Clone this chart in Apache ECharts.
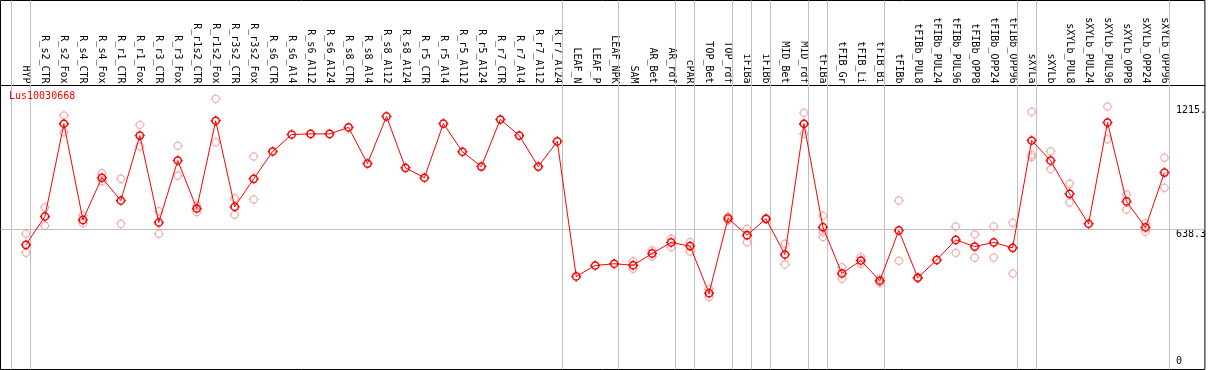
<!DOCTYPE html>
<html><head><meta charset="utf-8">
<script src="https://cdn.jsdelivr.net/npm/echarts@6/dist/echarts.min.js"></script>
<style>html,body{margin:0;padding:0;background:#fff}#c{width:1209px;height:370px}</style>
</head><body><div id="c"></div>
<script>
const geneName = 'Lus10030668';
const categories = ['HYP','R_s2_CTR','R_s2_Fox','R_s4_CTR','R_s4_Fox','R_r1_CTR','R_r1_Fox','R_r3_CTR','R_r3_Fox','R_r1s2_CTR','R_r1s2_Fox','R_r3s2_CTR','R_r3s2_Fox','R_s6_CTR','R_s6_Al4','R_s6_Al12','R_s6_Al24','R_s8_CTR','R_s8_Al4','R_s8_Al12','R_s8_Al24','R_r5_CTR','R_r5_Al4','R_r5_Al12','R_r5_Al24','R_r7_CTR','R_r7_Al4','R_r7_Al12','R_r7_Al24','LEAF_N','LEAF_P','LEAF_NPK','SAM','AR_Bet','AR_rdf','cPAR','TOP_Bet','TOP_rdf','iFIBa','iFIBb','MID_Bet','MID_rdf','tFIBa','tFIB_Gr','tFIB_Li','tFIB_Bi','tFIBb','tFIBb_PUL8','tFIBb_PUL24','tFIBb_PUL96','tFIBb_OPP8','tFIBb_OPP24','tFIBb_OPP96','sXYLa','sXYLb','sXYLb_PUL8','sXYLb_PUL24','sXYLb_PUL96','sXYLb_OPP8','sXYLb_OPP24','sXYLb_OPP96'];
const meanValues = [567,699,1130,683,879,773,1075,671,959,736,1144,744,874,1001,1080,1083,1083,1113,945,1164,925,879,1131,1000,931,1150,1075,931,1048,420,471,479,472,527,578,561,342,690,612,688,522,1130,649,434,494,400,634,414,497,590,559,578,553,1052,959,804,665,1136,769,648,903];
const rep1 = [618,741,1169,703,900,874,1125,723,1028,750,1246,784,978,null,null,null,null,null,null,null,null,null,null,null,null,null,null,null,null,null,null,null,491,541,595,579,361,699,642,690,572,1181,702,463,510,410,773,416,null,652,615,652,670,1186,1001,851,null,1210,801,668,972];
const rep2 = [530,656,1091,668,863,665,1024,618,888,719,1044,707,778,null,null,null,null,null,null,null,null,null,null,null,null,null,null,null,null,null,null,null,456,513,556,536,324,680,579,686,476,1083,603,409,479,389,493,411,null,530,507,508,434,986,919,764,null,1058,731,628,832];
const rep3 = [null,null,null,null,null,null,null,null,null,null,null,null,null,null,null,null,null,null,null,null,null,null,null,null,null,null,null,null,null,null,null,null,null,null,null,null,null,null,null,null,null,null,626,null,null,null,null,null,null,null,null,null,null,975,null,null,null,null,null,null,null];
const yTickValues = [638.3, 1215];
const yTickLabels = ['638.3', '1215.'];
const yZeroValues = [0];
const groupEndsAfter = [-1, 0, 28, 31, 34, 35, 37, 38, 39, 41, 42, 45, 52, 53, 60];

// layout constants (pixels)
const FRAME_L = 0.5, FRAME_T = 0.5, FRAME_W = 1206, FRAME_H = 369;
const FIRST_X = 26, STEP = 19, SEP_OFFSET = 4.5;
const ZERO_Y = 366.75, PX_PER_UNIT = 0.21502;
const LABEL_BAND = 85;
const Y_AXIS_X = 1175.5;
const xMin = -(FIRST_X - FRAME_L) / STEP;
const xMax = xMin + FRAME_W / STEP;
const yMax = (ZERO_Y - FRAME_T) / PX_PER_UNIT;
const yMin = -(FRAME_T + FRAME_H - ZERO_Y) / PX_PER_UNIT;

const MONO = "'DejaVu Sans Mono', 'Liberation Mono', monospace";
// stroked circle plus four short ticks (10x10 box)
const markerPath = 'path://M5,1.4 C6.988,1.4 8.6,3.012 8.6,5 C8.6,6.988 6.988,8.6 5,8.6 C3.012,8.6 1.4,6.988 1.4,5 C1.4,3.012 3.012,1.4 5,1.4 Z ' +
  'M5,0 L5,1.4 M5,8.6 L5,10 M0,5 L1.4,5 M8.6,5 L10,5';

const toPts = arr => arr.map((v, i) => v == null ? null : [i, v]).filter(p => p);
const idx = categories.map((c, i) => i);

const chart = echarts.init(document.getElementById('c'), null, {renderer: 'canvas'});
const yAxisBase = {
  type: 'value', min: yMin, max: yMax, position: 'right',
  offset: -((FRAME_L + FRAME_W) - Y_AXIS_X),
  axisLine: {show: false, onZero: false}, axisTick: {show: false}, splitLine: {show: false}
};
chart.setOption({
  animation: false,
  backgroundColor: '#fff',
  title: {
    text: geneName, left: 9, top: 91, padding: 0,
    textStyle: {color: '#ff0000', fontSize: 10, fontFamily: MONO, fontWeight: 'normal'}
  },
  grid: {left: FRAME_L, top: FRAME_T, width: FRAME_W, height: FRAME_H, show: true,
         borderColor: '#000', borderWidth: 1, backgroundColor: 'transparent'},
  xAxis: {
    type: 'value', min: xMin, max: xMax, position: 'top', offset: -LABEL_BAND,
    axisLine: {show: true, onZero: false, lineStyle: {color: '#000', width: 1}},
    axisTick: {show: false}, splitLine: {show: false},
    axisLabel: {
      customValues: idx, rotate: 90, margin: 2, color: '#000', fontSize: 10, fontFamily: MONO,
      formatter: v => categories[Math.round(v)] || ''
    }
  },
  yAxis: [
    Object.assign({}, yAxisBase, {
      axisLabel: {customValues: yTickValues, verticalAlign: 'top', margin: 2, color: '#000', fontSize: 10, fontFamily: MONO,
        formatter: v => yTickLabels[yTickValues.indexOf(v)] ?? String(v)}
    }),
    Object.assign({}, yAxisBase, {
      axisLabel: {customValues: yZeroValues, verticalAlign: 'bottom', margin: 2, color: '#000', fontSize: 10, fontFamily: MONO,
        formatter: v => String(v)}
    })
  ],
  series: [
    {
      type: 'scatter', name: 'rep', yAxisIndex: 0, z: 2,
      data: toPts(rep1).concat(toPts(rep2), toPts(rep3)),
      symbol: markerPath, symbolSize: 10,
      itemStyle: {color: 'rgba(0,0,0,0)', borderColor: '#ee9a9a', borderWidth: 1.2}, silent: true
    },
    {
      type: 'line', name: geneName, yAxisIndex: 0, z: 3,
      data: toPts(meanValues),
      symbol: markerPath, symbolSize: 10, showAllSymbol: true,
      itemStyle: {color: 'rgba(0,0,0,0)', borderColor: '#ff0000', borderWidth: 1.5},
      lineStyle: {color: '#ff0000', width: 1},
      silent: true,
      markLine: {
        silent: true, symbol: 'none', z: 1, animation: false,
        label: {show: false},
        lineStyle: {color: '#c0c0c0', width: 1, type: 'solid'},
        emphasis: {disabled: true},
        data: groupEndsAfter.map(k => ({xAxis: k + SEP_OFFSET / STEP})).concat([{yAxis: 638.3}])
      }
    }
  ]
});
</script></body></html>
